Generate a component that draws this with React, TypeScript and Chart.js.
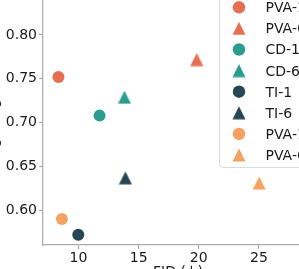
import React, { useEffect, useRef } from "react";
import { Chart, registerables } from "chart.js";

Chart.register(...registerables);

const seriesLabels = ["PVA-1", "PVA-6", "CD-1", "CD-6", "TI-1", "TI-6", "PVA-1", "PVA-6"];
const fidValues = [8.33, 19.83, 11.75, 13.82, 9.98, 13.9, 8.62, 25.02];
const scoreValues = [0.752, 0.772, 0.708, 0.729, 0.572, 0.637, 0.59, 0.631];
const seriesColors = ["#e76f51", "#e76f51", "#2a9d8f", "#2a9d8f", "#264653", "#264653", "#f4a261", "#f4a261"];
const seriesShapes = ["circle", "triangle", "circle", "triangle", "circle", "triangle", "circle", "triangle"];
const xTicks = [10, 15, 20, 25];
const yTicks = [0.6, 0.65, 0.7, 0.75, 0.8, 0.85];
const xTitle = "FID (↓)";
const yTitle = "Text-Image Alignment (↑)";

const FONT = "'DejaVu Sans', sans-serif";
const TEXT = "#1a1a1a";
const AXIS = "#acacac";

const CW = 339;
const CH = 320;
const OFF_X = -20;
const OFF_Y = -40;

function makeTriangle(color: string, size = 13): HTMLCanvasElement {
  const c = document.createElement("canvas");
  c.width = size + 1;
  c.height = size + 1;
  const ctx = c.getContext("2d")!;
  ctx.fillStyle = color;
  ctx.beginPath();
  ctx.moveTo((size + 1) / 2, 0.5);
  ctx.lineTo(size + 0.5, size + 0.5);
  ctx.lineTo(0.5, size + 0.5);
  ctx.closePath();
  ctx.fill();
  return c;
}

export default function App() {
  const ref = useRef<HTMLCanvasElement | null>(null);

  useEffect(() => {
    if (!ref.current) return;
    const tris = seriesColors.map((c) => makeTriangle(c));
    const datasets = seriesLabels.map((label, i) => ({
      label,
      data: [{ x: fidValues[i], y: scoreValues[i] }],
      backgroundColor: seriesColors[i],
      borderWidth: 0,
      pointRadius: 6,
      pointStyle: seriesShapes[i] === "triangle" ? (tris[i] as any) : "circle",
    }));

    const overlay = {
      id: "overlay",
      afterDraw(chart: any) {
        const ctx = chart.ctx as CanvasRenderingContext2D;
        const ca = chart.chartArea;
        ctx.save();
        // x title
        ctx.fillStyle = TEXT;
        ctx.font = `14px ${FONT}`;
        ctx.textAlign = "center";
        ctx.textBaseline = "alphabetic";
        ctx.fillText(xTitle, (ca.left + ca.right) / 2, 316);
        // y title
        ctx.save();
        ctx.translate(17.5, (ca.top + ca.bottom) / 2);
        ctx.rotate(-Math.PI / 2);
        ctx.fillText(yTitle, 0, 0);
        ctx.restore();

        // legend
        const lx = 239, ly = 35.3, lw = 93, lh = 171.7;
        ctx.beginPath();
        (ctx as any).roundRect(lx + 0.5, ly + 0.5, lw, lh, 4);
        ctx.fillStyle = "rgba(255,255,255,0.8)";
        ctx.fill();
        ctx.strokeStyle = "#d9d9d9";
        ctx.lineWidth = 1;
        ctx.stroke();
        ctx.textAlign = "left";
        seriesLabels.forEach((label, i) => {
          const cy = 47.3 + 21.1 * i;
          if (seriesShapes[i] === "triangle") {
            const t = tris[i];
            ctx.drawImage(t, 259 - t.width / 2, cy - t.height / 2);
          } else {
            ctx.beginPath();
            ctx.arc(259, cy, 6.25, 0, Math.PI * 2);
            ctx.fillStyle = seriesColors[i];
            ctx.fill();
          }
          ctx.fillStyle = TEXT;
          ctx.fillText(label, 285.5, cy + 4.9);
        });
        ctx.restore();
      },
    };

    const chart = new Chart(ref.current, {
      type: "scatter",
      data: { datasets },
      options: {
        animation: false,
        responsive: false,
        events: [],
        layout: { padding: { left: 0, top: 28, right: 0, bottom: 0 } },
        plugins: { legend: { display: false }, tooltip: { enabled: false } },
        scales: {
          x: {
            type: "linear",
            min: 7.047,
            max: 29.499,
            afterBuildTicks: (s: any) => {
              s.ticks = xTicks.map((v) => ({ value: v }));
            },
            afterFit: (s: any) => {
              s.height = 35;
              s.paddingLeft = 0;
              s.paddingRight = 0;
            },
            grid: { display: true, drawOnChartArea: false, drawTicks: true, tickLength: 4, tickColor: AXIS, tickWidth: 1.25 },
            border: { display: true, color: AXIS, width: 1.25 },
            ticks: { color: TEXT, font: { family: FONT, size: 14 }, padding: 1, maxRotation: 0, autoSkip: false },
          },
          y: {
            type: "linear",
            min: 0.5604,
            max: 0.8536,
            afterBuildTicks: (s: any) => {
              s.ticks = yTicks.map((v) => ({ value: v }));
            },
            afterFit: (s: any) => {
              s.width = 63;
              s.paddingTop = 0;
              s.paddingBottom = 0;
            },
            grid: { display: true, drawOnChartArea: false, drawTicks: true, tickLength: 4, tickColor: AXIS, tickWidth: 1.25 },
            border: { display: true, color: AXIS, width: 1.25 },
            ticks: {
              color: TEXT,
              font: { family: FONT, size: 14 },
              padding: 2,
              autoSkip: false,
              callback: (v: any) => Number(v).toFixed(2),
            },
          },
        },
      },
      plugins: [overlay],
    });
    return () => chart.destroy();
  }, []);

  return (
    <div style={{ position: "fixed", left: 0, top: 0, width: 299, height: 269, overflow: "hidden", background: "#fff" }}>
      <div style={{ position: "absolute", left: OFF_X, top: OFF_Y, width: CW, height: CH }}>
        <canvas ref={ref} width={CW} height={CH} style={{ display: "block", width: CW, height: CH }} />
      </div>
    </div>
  );
}
